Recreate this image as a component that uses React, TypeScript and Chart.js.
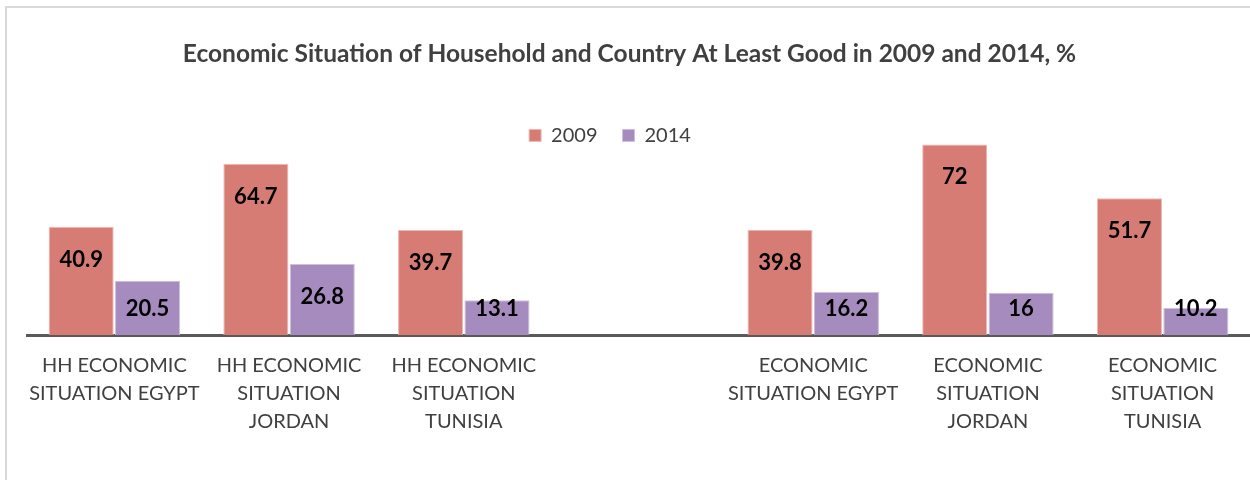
import React, { useEffect, useRef } from "react";
import { Chart, registerables } from "chart.js";

Chart.register(...registerables);

const categories: (string | string[])[] = [
  ["HH ECONOMIC", "SITUATION EGYPT"],
  ["HH ECONOMIC", "SITUATION", "JORDAN"],
  ["HH ECONOMIC", "SITUATION", "TUNISIA"],
  "",
  ["ECONOMIC", "SITUATION EGYPT"],
  ["ECONOMIC", "SITUATION", "JORDAN"],
  ["ECONOMIC", "SITUATION", "TUNISIA"],
];
const seriesNames = ["2009", "2014"];
const values2009: (number | null)[] = [40.9, 64.7, 39.7, null, 39.8, 72, 51.7];
const values2014: (number | null)[] = [20.5, 26.8, 13.1, null, 16.2, 16, 10.2];
const titleText =
  "Economic Situation of Household and Country At Least Good in 2009 and 2014, %";

const FONT = "Lato";

export default function App() {
  const ref = useRef<HTMLCanvasElement>(null);

  useEffect(() => {
    if (!ref.current) return;

    const framePlugin = {
      id: "frame",
      beforeDraw(chart: any) {
        const ctx = chart.ctx;
        ctx.save();
        ctx.strokeStyle = "#d9d9d9";
        ctx.lineWidth = 2;
        ctx.beginPath();
        ctx.moveTo(6, 480);
        ctx.lineTo(6, 7);
        ctx.lineTo(1250, 7);
        ctx.stroke();
        ctx.restore();
      },
    };

    const legendShift = {
      id: "legendShift",
      afterLayout(chart: any) {
        const l = chart.legend;
        if (l) {
          l.left -= 19.5;
          l.right -= 19.5;
          l.top += 11;
          l.bottom += 11;
        }
      },
    };

    const barLabels = {
      id: "barLabels",
      afterDatasetsDraw(chart: any) {
        const ctx = chart.ctx;
        ctx.save();
        ctx.font = `bold 22px ${FONT}`;
        ctx.fillStyle = "#000000";
        ctx.textAlign = "center";
        ctx.textBaseline = "middle";
        chart.data.datasets.forEach((ds: any, di: number) => {
          const meta = chart.getDatasetMeta(di);
          meta.data.forEach((el: any, i: number) => {
            const v = ds.data[i];
            if (v === null || v === undefined) return;
            const y = Math.min(el.y + 33, el.base - 26);
            ctx.fillText(String(v), el.x, y);
          });
        });
        ctx.restore();
      },
    };

    const chart = new Chart(ref.current, {
      type: "bar",
      data: {
        labels: categories,
        datasets: [
          {
            label: seriesNames[0],
            data: values2009,
            backgroundColor: "#d67c74",
            borderColor: "#ecb9b4",
            borderWidth: 1,
            categoryPercentage: 0.76,
            barPercentage: 0.98,
            clip: false,
          },
          {
            label: seriesNames[1],
            data: values2014,
            backgroundColor: "#a68bbf",
            borderColor: "#cdbfdd",
            borderWidth: 1,
            categoryPercentage: 0.76,
            barPercentage: 0.98,
            clip: false,
          },
        ],
      },
      options: {
        responsive: false,
        animation: false,
        devicePixelRatio: 1,
        layout: { padding: { left: 6, right: -3, top: 0, bottom: 27 } },
        plugins: {
          title: {
            display: true,
            text: titleText,
            color: "#404040",
            font: { family: FONT, size: 24.5, weight: "bold" },
            padding: { top: 39, bottom: 21 },
          },
          legend: {
            display: true,
            position: "top",
            labels: {
              boxWidth: 12,
              boxHeight: 12,
              padding: 25,
              color: "#404040",
              font: { family: FONT, size: 20 },
            },
          },
          tooltip: { enabled: false },
        },
        scales: {
          x: {
            grid: { display: false, drawTicks: false },
            border: { display: true, color: "#595959", width: 3 },
            ticks: {
              color: "#404040",
              font: { family: FONT, size: 20, lineHeight: 1.4 },
              padding: 17,
              maxRotation: 0,
              minRotation: 0,
              autoSkip: false,
            },
          },
          y: {
            display: true,
            min: 0,
            max: 72,
            grid: { display: false, drawTicks: false },
            border: { display: false },
            ticks: { display: false },
            afterFit: (scale: any) => {
              scale.width = 21;
            },
          },
        },
      },
      plugins: [framePlugin, legendShift, barLabels],
    } as any);

    return () => chart.destroy();
  }, []);

  return (
    <div style={{ position: "absolute", left: 0, top: 0, width: 1250, height: 480 }}>
      <canvas ref={ref} width={1250} height={480} />
    </div>
  );
}
